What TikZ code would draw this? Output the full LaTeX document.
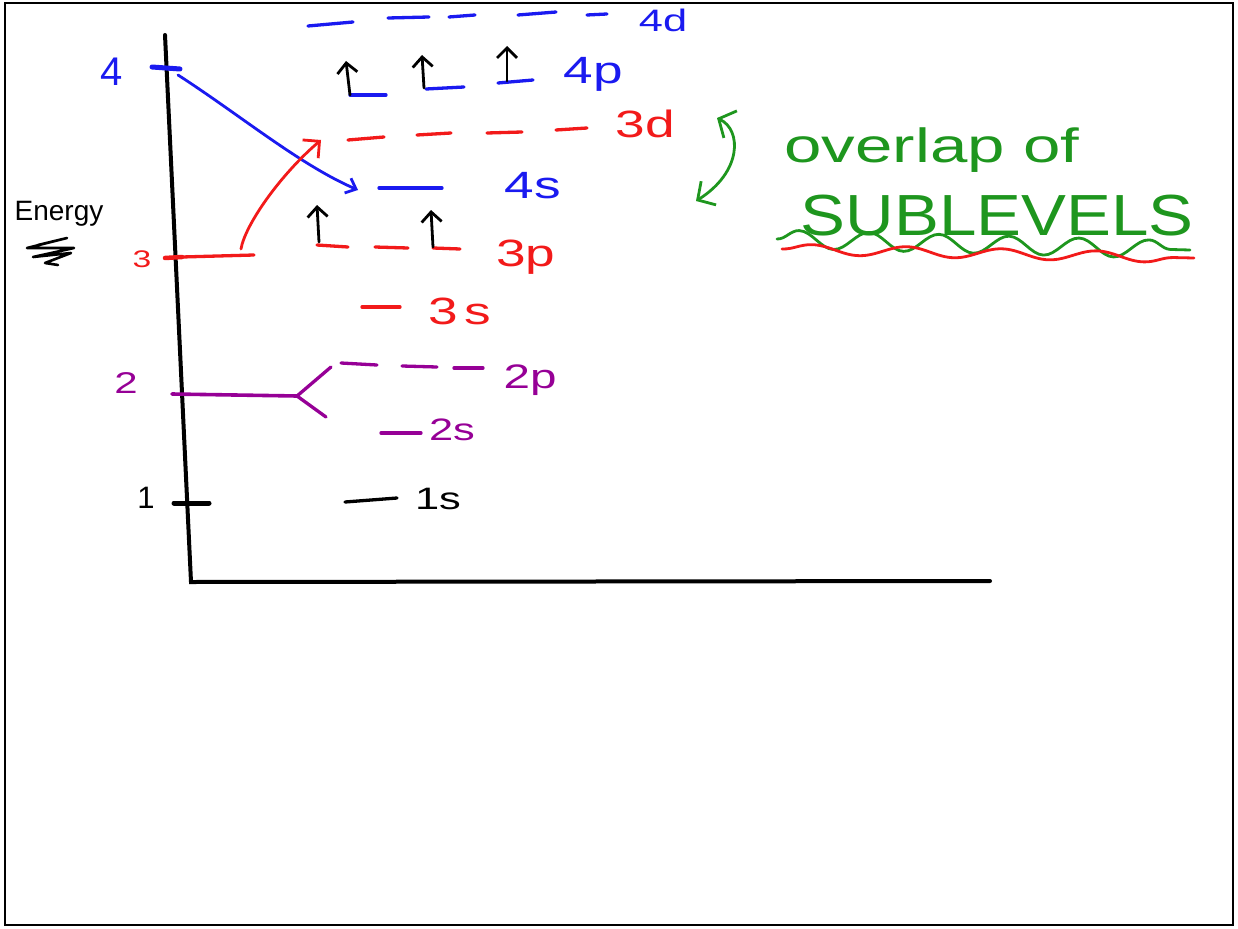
\documentclass[tikz,border=0pt]{standalone}
\usepackage{fontspec}
\setmainfont{Liberation Sans}
\newfontfamily\handfont[FakeStretch=1.4]{Liberation Sans}
\usepackage{graphicx}
\usetikzlibrary{arrows.meta, decorations.pathmorphing}
\definecolor{enblue}{HTML}{1A1AF0}
\definecolor{enred}{HTML}{F21A1A}
\definecolor{enpurple}{HTML}{960096}
\definecolor{engreen}{HTML}{1E961E}

\begin{document}
\begin{tikzpicture}[
  x=1pt, y=-1pt,
  every node/.style={inner sep=0pt},
  pen/.style={line width=3.3pt, line cap=round, line join=round},
  axis/.style={line width=4pt, line cap=round, black},
  spin/.style={pen, line width=2.8pt, black, -{Straight Barb[length=10pt, width=20pt, line width=2.8pt]}},
  sublbl/.style={font=\handfont\fontsize{38}{38}\selectfont},
  smlbl/.style={font=\handfont\fontsize{31}{31}\selectfont},
]
\useasboundingbox (0,0) rectangle (1238,928);
\draw[line width=2pt] (5,3) rectangle (1233,925);

% axes
\coordinate (top) at (165,35);
\coordinate (origin) at (191,582);
\coordinate (xend) at (990,581);
\draw[axis] (top) -- (origin) -- (xend);

% energy label
\node[font=\fontsize{28}{28}\selectfont] (energy) at (59,214) {Energy};
\draw[pen, line width=2.6pt] (38,245) -- (67,238) -- (27,248) -- (74,248) -- (33,257) -- (71,253) -- (45,263) -- (58,265);

% n = 4
\node[font=\fontsize{40}{40}\selectfont, text=enblue] (n4) at (112,72) {4};
\draw[pen, enblue, line width=5pt] (152,67) -- (180,69);
\coordinate (t4) at (178,75);
\foreach \xa/\ya/\xb/\yb in {308/26/353/22, 388/18/429/17, 449/17/475/15, 518/15/556/12, 587/15/607/14}
  \draw[pen, enblue] (\xa,\ya) -- (\xb,\yb);
\node[font=\handfont\fontsize{31}{31}\selectfont, text=enblue] (d4) at (663,20) {4d};
\foreach \xa/\ya/\xb/\yb in {350/95/386/95, 426/89/464/87, 498/83/533/80}
  \draw[pen, enblue] (\xa,\ya) -- (\xb,\yb);
\node[sublbl, text=enblue] (p4) at (593,74) {4p};
\draw[spin] (350,95) -- (346,61);
\draw[spin] (424,88) -- (422,55);
\draw[spin] (507,81) -- (507,46);
\coordinate (s4) at (358,190);
\draw[pen, enblue] (379,188) -- (442,188);
\node[sublbl, text=enblue] (s4l) at (533,186) {4s};
\draw[pen, line width=2.8pt, enblue, -{Straight Barb[length=9pt, width=16pt, line width=2.8pt]}]
  (t4) .. controls (240,115) and (300,165) .. (s4);

% n = 3
\node[font=\handfont\fontsize{24}{24}\selectfont, text=enred] (n3) at (142,259) {3};
\draw[pen, enred, line width=4.5pt] (165,258) -- (182,257);
\draw[pen, enred] (182,257) -- (254,255);
\coordinate (l3e) at (241,249);
\foreach \xa/\ya/\xb/\yb in {348/140/384/137, 417/135/451/133, 487/133/522/132, 556/130/587/128}
  \draw[pen, enred] (\xa,\ya) -- (\xb,\yb);
\coordinate (d3a) at (321,140);
\node[sublbl, text=enred] (d3) at (645,124) {3d};
\draw[pen, line width=2.8pt, enred, -{Straight Barb[length=12pt, width=24pt, line width=2.8pt]}]
  (l3e) .. controls (245,225) and (280,175) .. (d3a);
\foreach \xa/\ya/\xb/\yb in {317/245/348/247, 375/247/408/248, 433/248/460/249}
  \draw[pen, enred] (\xa,\ya) -- (\xb,\yb);
\node[sublbl, text=enred] (p3) at (526,257) {3p};
\draw[spin] (319,242) -- (317,205);
\draw[spin] (433,247) -- (431,210);
\draw[pen, enred] (362,307) -- (400,307);
\node[sublbl, text=enred] (s3) at (460,311) {3\,s};

% n = 2
\node[font=\handfont\fontsize{30}{30}\selectfont, text=enpurple] (n2) at (126,383) {2};
\coordinate (fork) at (297,396);
\draw[pen, enpurple, line width=3.6pt] (172,394) -- (fork);
\draw[pen, enpurple] (331,367) -- (fork) -- (326,417);
\foreach \xa/\ya/\xb/\yb in {341/363/377/365, 402/366/437/367, 454/368/483/368}
  \draw[pen, enpurple] (\xa,\ya) -- (\xb,\yb);
\node[font=\handfont\fontsize{34}{34}\selectfont, text=enpurple] (p2) at (530,380) {2p};
\draw[pen, enpurple] (381,433) -- (421,433);
\node[smlbl, text=enpurple] (s2) at (452,430) {2s};

% n = 1
\node[font=\fontsize{31}{31}\selectfont] (n1) at (146,498) {1};
\draw[pen, line width=5pt] (174,503) -- (209,503);
\draw[pen] (345,502) -- (397,498);
\node[smlbl] (s1) at (438,499) {1s};

% overlap note
\coordinate (ovtop) at (717,118);
\coordinate (ovbot) at (696,201);
\draw[pen, line width=2.8pt, engreen, {Straight Barb[length=13pt, width=30pt, line width=2.8pt]}-{Straight Barb[length=13pt, width=28pt, line width=2.8pt]}]
  (ovtop) .. controls (742,130) and (742,172) .. (ovbot);
\node[font=\handfont\fontsize{48}{48}\selectfont, text=engreen] (overlap) at (932,150) {overlap of};
\node[font=\fontsize{58}{58}\selectfont, text=engreen] (sub) at (997,216) {\scalebox{1.16}[1]{SUBLEVELS}};
\coordinate (gwa) at (777,239);
\coordinate (gwb) at (1190,250);
\draw[pen, engreen, line width=2.8pt, decorate, decoration={snake, amplitude=9pt, segment length=70pt}] (gwa) -- (gwb);
\coordinate (rwa) at (782,249);
\coordinate (rwb) at (1194,258);
\draw[pen, enred, line width=2.8pt, decorate, decoration={snake, amplitude=5pt, segment length=95pt}] (rwa) -- (rwb);
\end{tikzpicture}
\end{document}
